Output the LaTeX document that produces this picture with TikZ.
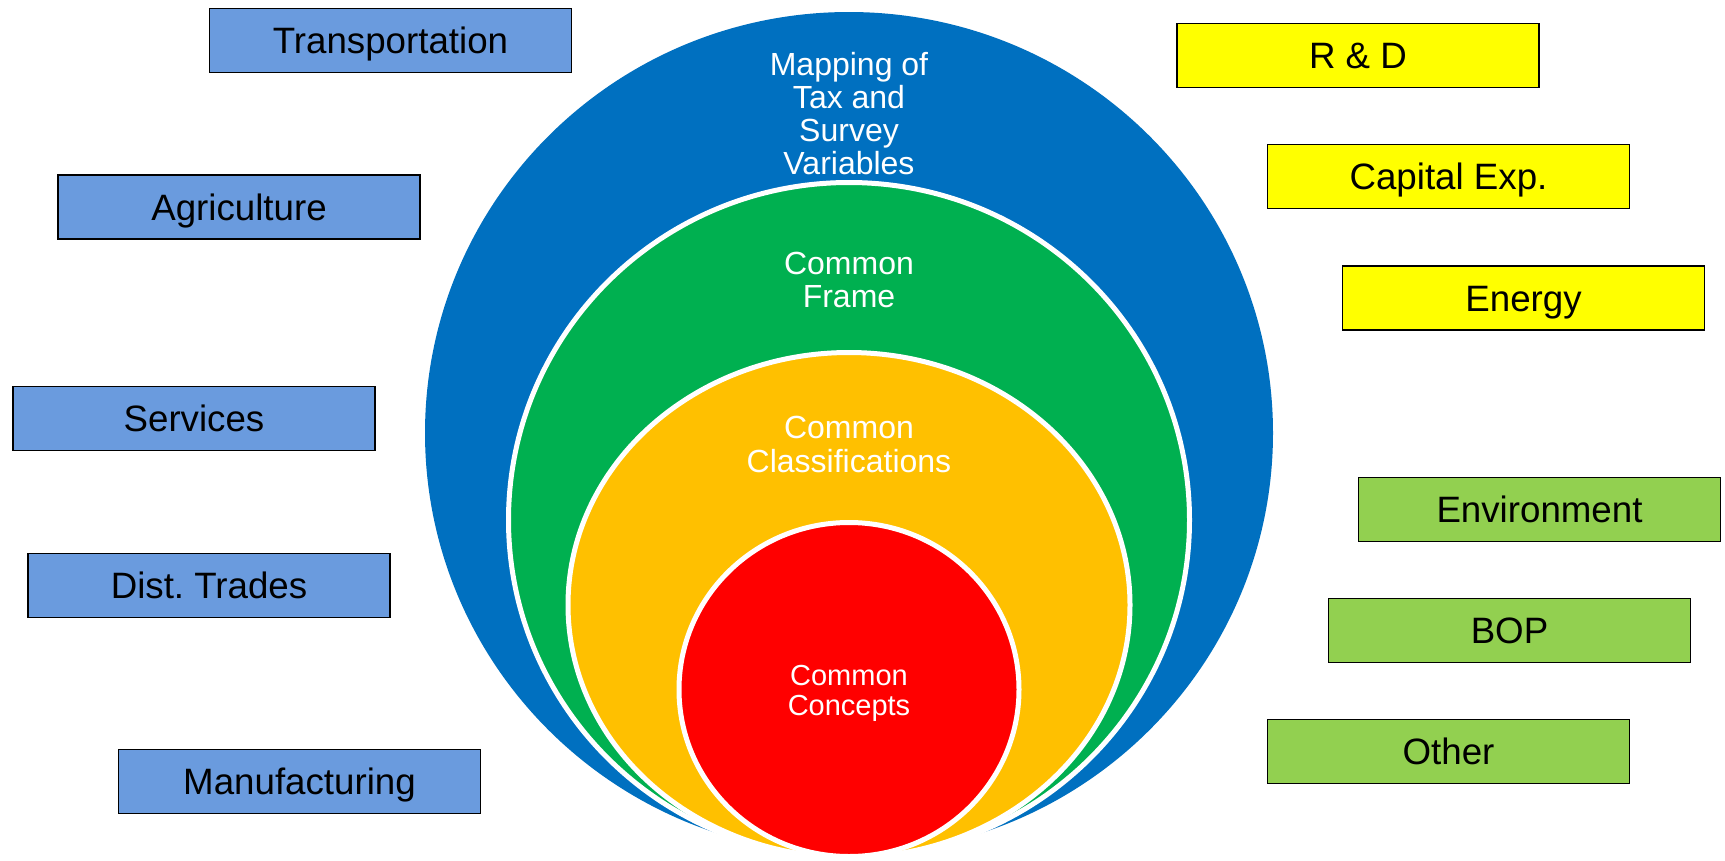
\documentclass[tikz,border=0pt]{standalone}
\usepackage{fontspec}
\setmainfont{Liberation Sans}
\usetikzlibrary{shapes.geometric}
\frenchspacing
\definecolor{ringblue}{RGB}{0,112,192}
\definecolor{ringgreen}{RGB}{0,176,80}
\definecolor{ringyellow}{RGB}{255,192,0}
\definecolor{ringred}{RGB}{255,0,0}
\definecolor{boxblue}{RGB}{106,155,222}
\definecolor{boxyellow}{RGB}{255,255,0}
\definecolor{boxgreen}{RGB}{146,208,80}
\begin{document}
\frenchspacing
\begin{tikzpicture}[x=1pt,y=-1pt,
  ring/.style={ellipse, inner sep=0pt, outer sep=0pt, draw=white, line width=5pt},
  sector/.style={rectangle, draw=black, line width=1.8pt, minimum width=362pt, minimum height=64pt,
    inner sep=0pt, text height=26.3pt, text depth=0pt, font=\fontsize{36.7}{40}\selectfont},
  ringlabel/.style={inner sep=0pt, anchor=base, text=white}
]
\useasboundingbox (0,0) rectangle (1725,860);
\fill[white] (0,0) rectangle (1725,860);
% rings
\node[ring, draw=none, fill=ringblue, minimum width=848pt, minimum height=842pt] (blue) at (849,433) {};
\node[ring, fill=ringgreen, minimum width=681pt, minimum height=675pt] (green) at (849,520) {};
\node[ring, fill=ringyellow, minimum width=562pt, minimum height=505pt] (yellow) at (849,605) {};
\node[ring, fill=ringred, minimum width=340pt, minimum height=334pt] (red) at (849,689.5) {};
% ring labels
\node[ringlabel, font=\fontsize{32}{33}\selectfont] (tmap) at (849,75)
  {\begin{tabular}[t]{@{}c@{}}Mapping of\\Tax and\\Survey\\Variables\end{tabular}};
\node[ringlabel, font=\fontsize{32}{33}\selectfont] (tframe) at (849,274)
  {\begin{tabular}[t]{@{}c@{}}Common\\Frame\end{tabular}};
\node[ringlabel, font=\fontsize{32}{34.5}\selectfont] (tclass) at (849,438)
  {\begin{tabular}[t]{@{}c@{}}Common\\Classifications\end{tabular}};
\node[ringlabel, font=\fontsize{29}{30.5}\selectfont] (tconc) at (849,685)
  {\begin{tabular}[t]{@{}c@{}}Common\\Concepts\end{tabular}};
% left boxes
\node[sector, fill=boxblue] (transp) at (390.5,40.5) {Transportation};
\node[sector, fill=boxblue] (agri) at (239,207) {Agriculture};
\node[sector, fill=boxblue] (serv) at (194,418.5) {Services};
\node[sector, fill=boxblue] (dist) at (209,585.5) {Dist.\ Trades};
\node[sector, fill=boxblue] (manu) at (299.5,781.5) {Manufacturing};
% right boxes
\node[sector, fill=boxyellow] (rd) at (1358,55.5) {R \& D};
\node[sector, fill=boxyellow] (capex) at (1448.5,176.5) {Capital Exp.};
\node[sector, fill=boxyellow] (energy) at (1523.5,298) {Energy};
\node[sector, fill=boxgreen] (env) at (1539.5,509.5) {Environment};
\node[sector, fill=boxgreen] (bop) at (1509.5,630.5) {BOP};
\node[sector, fill=boxgreen] (other) at (1448.5,751.5) {Other};
\end{tikzpicture}
\end{document}
